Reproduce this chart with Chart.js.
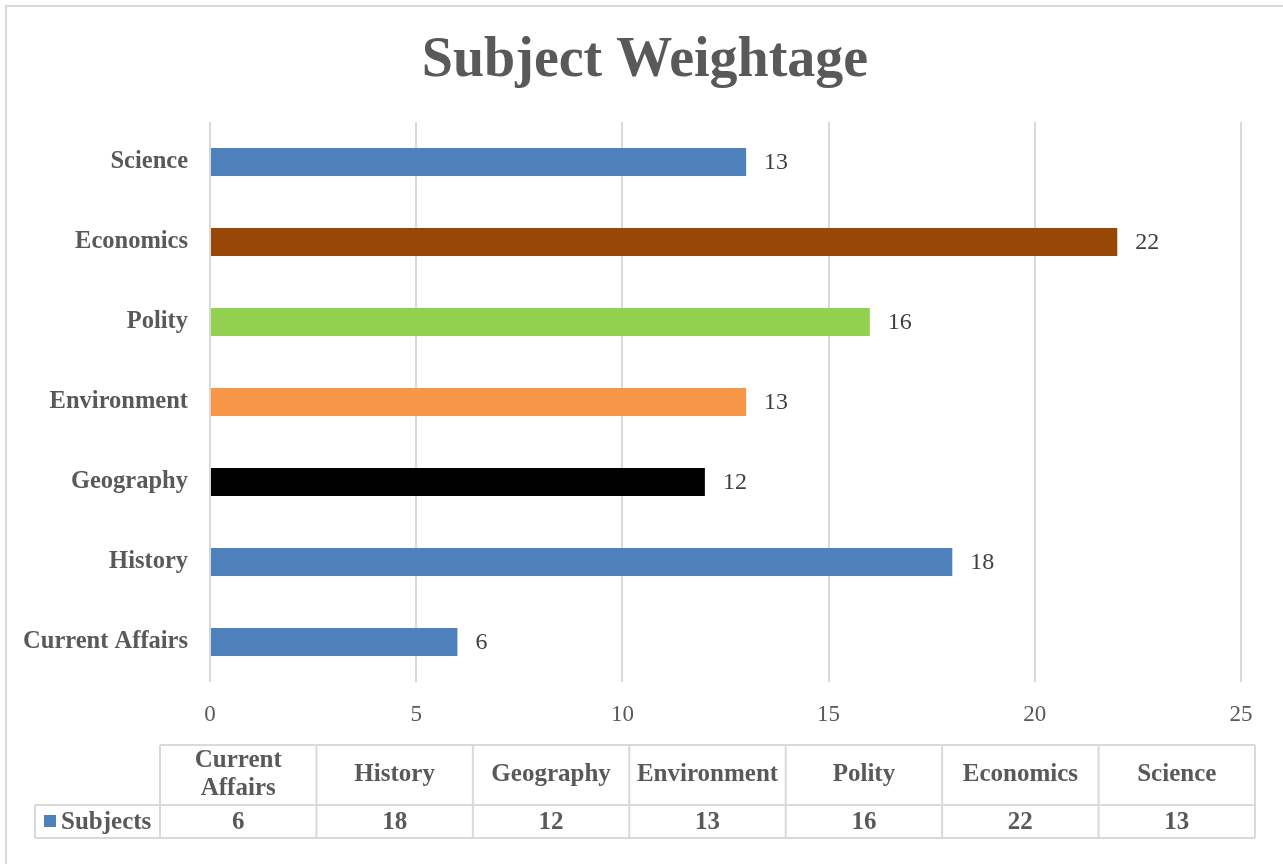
<!DOCTYPE html>
<html>
<head>
<meta charset="utf-8">
<script src="https://cdn.jsdelivr.net/npm/chart.js@4.4.0/dist/chart.umd.min.js"></script>
<style>
html,body{margin:0;padding:0;background:#fff;}
#wrap{position:relative;width:1283px;height:864px;}
</style>
</head>
<body>
<div id="wrap"><canvas id="c" width="1283" height="864"></canvas></div>
<script>
const chartTitle = 'Subject Weightage';
const seriesName = 'Subjects';
const categories = ['Current Affairs', 'History', 'Geography', 'Environment', 'Polity', 'Economics', 'Science'];
const values = [6, 18, 12, 13, 16, 22, 13];
const barColors = ['#4F81BD', '#4F81BD', '#000000', '#F79646', '#92D050', '#974706', '#4F81BD'];
const xTicks = [0, 5, 10, 15, 20, 25];

const FONT = "'Liberation Serif', 'Times New Roman', serif";
const TEXT = '#595959';
const GRID = '#D9D9D9';

const bgPlugin = {
  id: 'bg',
  beforeDraw(chart) {
    const ctx = chart.ctx;
    ctx.save();
    ctx.fillStyle = '#fff';
    ctx.fillRect(0, 0, chart.width, chart.height);
    ctx.strokeStyle = GRID;
    ctx.lineWidth = 2;
    ctx.beginPath();
    ctx.moveTo(6, chart.height);
    ctx.lineTo(6, 6);
    ctx.lineTo(chart.width, 6);
    ctx.stroke();
    // title
    ctx.fillStyle = TEXT;
    ctx.font = "bold 56px " + FONT;
    ctx.textAlign = 'center';
    ctx.textBaseline = 'middle';
    ctx.fillText(chartTitle, 645, 62);
    ctx.restore();
  }
};

const valueLabels = {
  id: 'valueLabels',
  afterDatasetsDraw(chart) {
    const ctx = chart.ctx;
    const meta = chart.getDatasetMeta(0);
    ctx.save();
    ctx.font = "24px " + FONT;
    ctx.fillStyle = '#404040';
    ctx.textAlign = 'left';
    ctx.textBaseline = 'middle';
    meta.data.forEach((bar, i) => {
      ctx.fillText(String(values[i]), bar.x + 18, bar.y + 1);
    });
    ctx.restore();
  }
};

const dataTable = {
  id: 'dataTable',
  afterDraw(chart) {
    const ctx = chart.ctx;
    const top = 745, mid = 805, bottom = 838;
    const legLeft = 35, colLeft = 160, colRight = 1255;
    const n = categories.length;
    const cw = (colRight - colLeft) / n;
    ctx.save();
    ctx.strokeStyle = GRID;
    ctx.lineWidth = 2;
    ctx.beginPath();
    ctx.moveTo(colLeft, top); ctx.lineTo(colRight, top);
    ctx.moveTo(legLeft, mid); ctx.lineTo(colRight, mid);
    ctx.moveTo(legLeft, bottom); ctx.lineTo(colRight, bottom);
    ctx.moveTo(legLeft, mid); ctx.lineTo(legLeft, bottom);
    for (let i = 0; i <= n; i++) {
      const x = colLeft + i * cw;
      ctx.moveTo(x, top); ctx.lineTo(x, bottom);
    }
    ctx.stroke();

    ctx.fillStyle = TEXT;
    ctx.font = "bold 25px " + FONT;
    ctx.textAlign = 'center';
    ctx.textBaseline = 'middle';
    categories.forEach((c, i) => {
      const cx = colLeft + (i + 0.5) * cw;
      const cy = (top + mid) / 2;
      if (ctx.measureText(c).width > cw - 8) {
        const parts = c.split(' ');
        ctx.fillText(parts[0], cx, cy - 14);
        ctx.fillText(parts.slice(1).join(' '), cx, cy + 14);
      } else {
        ctx.fillText(c, cx, cy);
      }
      ctx.fillText(String(values[i]), cx, (mid + bottom) / 2 + 1);
    });
    ctx.fillStyle = barColors[0];
    ctx.fillRect(44, 815, 12, 12);
    ctx.fillStyle = TEXT;
    ctx.textAlign = 'left';
    ctx.fillText(seriesName, 61, (mid + bottom) / 2 + 1);
    ctx.restore();
  }
};

new Chart(document.getElementById('c'), {
  type: 'bar',
  data: {
    labels: categories,
    datasets: [{
      label: seriesName,
      data: values,
      backgroundColor: barColors,
      borderWidth: 0,
      categoryPercentage: 1.0,
      barPercentage: 0.35
    }]
  },
  options: {
    indexAxis: 'y',
    responsive: false,
    animation: false,
    devicePixelRatio: 1,
    layout: { padding: { left: 0, right: 42, top: 122, bottom: 132 } },
    plugins: {
      legend: { display: false },
      tooltip: { enabled: false },
      title: { display: false }
    },
    scales: {
      x: {
        min: xTicks[0],
        max: xTicks[xTicks.length - 1],
        afterBuildTicks(scale) { scale.ticks = xTicks.map(v => ({ value: v })); },
        afterFit(scale) { scale.height = 50; },
        grid: { color: GRID, lineWidth: 2, drawTicks: false },
        border: { display: false },
        ticks: { color: TEXT, padding: 19, font: { family: FONT, size: 23 } }
      },
      y: {
        reverse: true,
        afterFit(scale) { scale.width = 210; },
        grid: { display: false, drawTicks: false },
        border: { display: false },
        ticks: { color: TEXT, padding: 22, font: { family: FONT, size: 24.5, weight: 'bold' } }
      }
    }
  },
  plugins: [bgPlugin, valueLabels, dataTable]
});
</script>
</body>
</html>
